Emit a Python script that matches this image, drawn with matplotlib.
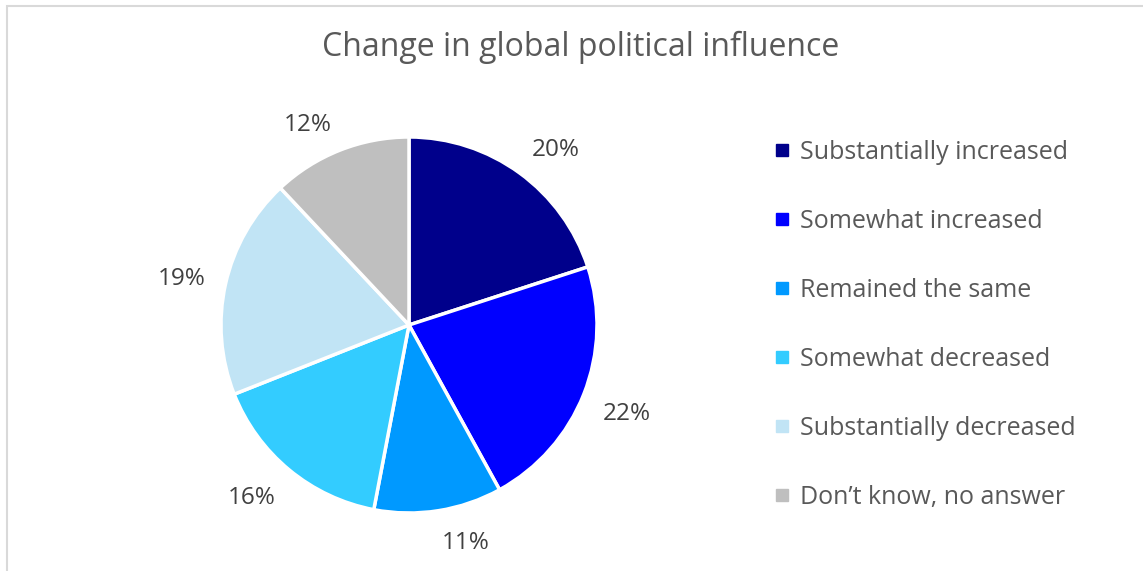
import numpy as np
import matplotlib
matplotlib.use("Agg")
import matplotlib.pyplot as plt
from matplotlib.patches import Rectangle
from matplotlib.lines import Line2D

plt.rcParams['font.family'] = ['Open Sans', 'DejaVu Sans']

categories = ["Substantially increased", "Somewhat increased", "Remained the same",
              "Somewhat decreased", "Substantially decreased", "Don\u2019t know, no answer"]
values = [20, 22, 11, 16, 19, 12]
colors = ["#00008B", "#0000FF", "#0099FF", "#33CCFF", "#C1E4F5", "#BFBFBF"]

fig = plt.figure(figsize=(11.43, 5.71), dpi=100)

# light chart border like excel
fig.patches.append(Rectangle((7 / 1143, -0.05), 1.1, 1 - 5.5 / 571 + 0.05,
                             transform=fig.transFigure, fill=False,
                             edgecolor="#D9D9D9", lw=1.5))

fig.text(581 / 1143, 1 - 47 / 571, "Change in global political influence",
         ha="center", va="center", fontsize=23, color="#595959")

ax = fig.add_axes([221 / 1143, 1 - 513 / 571, 376 / 1143, 376 / 571])
wedges, _ = ax.pie(values, colors=colors, startangle=90, counterclock=False,
                   wedgeprops=dict(edgecolor="white", linewidth=2.5))

# outside-end labels: nearest corner of the text box sits just off the rim
for w, v in zip(wedges, values):
    ang = np.deg2rad((w.theta1 + w.theta2) / 2)
    c, s = np.cos(ang), np.sin(ang)
    if abs(s) < 0.3:
        va = "center"
    elif s > 0:
        va = "baseline"
    else:
        va = "top"
    ax.text(1.11 * c, 1.11 * s, f"{v}%", fontsize=17.5, color="#404040",
            ha="left" if c > 0 else "right", va=va)

ax.set_xlim(-1, 1)
ax.set_ylim(-1, 1)
ax.set_aspect("equal")

handles = [Line2D([], [], marker="s", linestyle="none", markersize=8,
                  markerfacecolor=c, markeredgecolor=c) for c in colors]
leg = fig.legend(handles, categories, loc="upper left",
                 bbox_to_anchor=(772 / 1143, 1 - 140 / 571), frameon=False,
                 fontsize=18, labelspacing=1.76, handlelength=0.8,
                 handletextpad=0.3, borderpad=0, borderaxespad=0)
for t in leg.get_texts():
    t.set_color("#595959")

fig.savefig("out.png", dpi=100)
